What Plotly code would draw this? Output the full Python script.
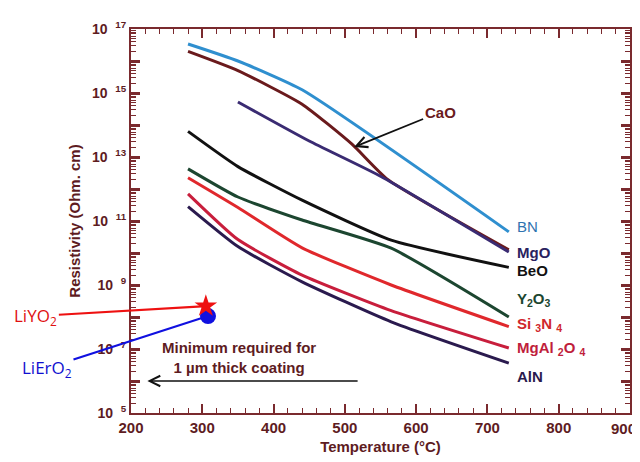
import plotly.graph_objects as go

# ---- data ----
bn_t = [280, 350, 440, 730]
bn_r = [16.53, 16.0, 15.1, 10.66]
cao_t = [280, 350, 440, 510, 560, 730]
cao_r = [16.3, 15.7, 14.65, 13.4, 12.3, 10.1]
mgo_t = [350, 450, 550, 730]
mgo_r = [14.72, 13.5, 12.4, 10.03]
beo_t = [280, 350, 440, 565, 730]
beo_r = [13.8, 12.7, 11.65, 10.4, 9.55]
y2o3_t = [280, 350, 440, 565, 730]
y2o3_r = [12.63, 11.75, 11.03, 10.15, 8.0]
si3n4_t = [280, 350, 440, 565, 730]
si3n4_r = [12.35, 11.42, 10.16, 9.0, 7.7]
mgal_t = [280, 350, 440, 565, 730]
mgal_r = [11.85, 10.42, 9.31, 8.2, 7.03]
aln_t = [280, 350, 440, 565, 730]
aln_r = [11.45, 10.2, 9.1, 7.85, 6.56]

liyo2 = (305, 8.34)
lierO2 = (308, 8.03)

cao_arrow_pt = (513, 13.31)
min_req = 6.0
min_arrow_t = (520, 223)

x_ticks = [200, 300, 400, 500, 600, 700, 800, 900]
y_decades = list(range(5, 18))

maroon = "#5e1c1f"
axis_col = "#7a2a2e"
FONT = "Liberation Sans, Arial"

series = [
    ("BN", bn_t, bn_r, "#2f8fcf"),
    ("CaO", cao_t, cao_r, "#6a1a1c"),
    ("MgO", mgo_t, mgo_r, "#3a2b72"),
    ("BeO", beo_t, beo_r, "#111111"),
    ("Y2O3", y2o3_t, y2o3_r, "#1c4630"),
    ("Si3N4", si3n4_t, si3n4_r, "#e0282c"),
    ("MgAl2O4", mgal_t, mgal_r, "#c81e3c"),
    ("AlN", aln_t, aln_r, "#2a1a4e"),
]

fig = go.Figure()
for name, t, r, c in series:
    fig.add_trace(go.Scatter(x=t, y=[10 ** v for v in r], mode="lines",
                             line=dict(color=c, width=3, shape="spline", smoothing=0.5),
                             name=name, showlegend=False))

fig.add_trace(go.Scatter(x=[lierO2[0]], y=[10 ** lierO2[1]], mode="markers",
                         marker=dict(symbol="circle", size=16, color="#1010e0"),
                         showlegend=False))
fig.add_trace(go.Scatter(x=[liyo2[0]], y=[10 ** liyo2[1]], mode="markers",
                         marker=dict(symbol="star", size=17, color="#ee1111"),
                         showlegend=False))

# right-side labels (annotation y on a log axis is given in log10 units)
labels = [
    ("BN", 10.84, "#2f73b0", False),
    ("MgO", 10.03, "#2a2260", True),
    ("BeO", 9.44, "#111111", True),
    ("Y<sub>2</sub>O<sub>3</sub>", 8.55, "#1c4630", True),
    ("Si <sub>3</sub>N <sub>4</sub>", 7.78, "#d0282c", True),
    ("MgAl <sub>2</sub>O <sub>4</sub>", 7.02, "#c01e3c", True),
    ("AlN", 6.13, "#2a1a4e", True),
]
for txt, yv, c, bold in labels:
    fig.add_annotation(x=738, y=yv, text=("<b>%s</b>" % txt) if bold else txt,
                       showarrow=False, xanchor="left", yanchor="middle",
                       font=dict(family=FONT, size=15, color=c))

# CaO annotation with arrow
fig.add_annotation(x=cao_arrow_pt[0], y=cao_arrow_pt[1], text="<b>CaO</b>",
                   showarrow=True, arrowhead=5, arrowsize=1.2, arrowwidth=1.8,
                   arrowcolor="#111111", ax=86, ay=-35,
                   font=dict(family=FONT, size=15, color="#6a1a1c"))

# Minimum required arrow
fig.add_annotation(x=min_arrow_t[1], y=min_req, ax=min_arrow_t[0], ay=min_req,
                   axref="x", ayref="y", text="", showarrow=True,
                   arrowhead=5, arrowsize=1.3, arrowwidth=1.6, arrowcolor="#111111")
fig.add_annotation(x=352, y=6.72,
                   text="<b>Minimum required for<br>1 µm thick coating</b>",
                   showarrow=False, xanchor="center", yanchor="middle",
                   font=dict(family=FONT, size=15, color=maroon))

# LiYO2 / LiErO2 labels
fig.add_annotation(x=liyo2[0], y=liyo2[1], text="LiYO<sub>2</sub>",
                   showarrow=True, arrowhead=0, arrowwidth=2.2, arrowcolor="#ee1111",
                   ax=-170, ay=10, standoff=4,
                   font=dict(family="Open Sans, Liberation Sans", size=17, color="#e01010"))
fig.add_annotation(x=lierO2[0], y=lierO2[1], text="LiErO<sub>2</sub>",
                   showarrow=True, arrowhead=0, arrowwidth=2.2, arrowcolor="#1010e0",
                   ax=-161, ay=52, standoff=4,
                   font=dict(family="Open Sans, Liberation Sans", size=17, color="#1010d0"))

# last x tick label, kept inside the page
fig.add_annotation(xref="paper", yref="paper", x=1, y=0, xanchor="right", yanchor="top",
                   xshift=8, yshift=-5, text="<b>%d</b>" % x_ticks[-1], showarrow=False,
                   font=dict(family=FONT, size=15, color=maroon))

ytext = []
for d in y_decades:
    ytext.append("<b>10&nbsp;&nbsp;<sup>%d</sup></b>" % d if d % 2 == 1 else "")

minor_y = [m * 10 ** d for d in range(5, 17) for m in range(2, 10)]

fig.update_layout(
    width=632, height=454,
    margin=dict(l=123, r=8, t=21, b=49),
    paper_bgcolor="white", plot_bgcolor="white",
    font=dict(family=FONT, color=maroon),
    xaxis=dict(range=[200, 900], tickvals=x_ticks, ticks="inside", ticklen=9,
               tickwidth=1.5, tickcolor=axis_col, showline=True, linecolor=axis_col,
               linewidth=2, mirror="ticks", showgrid=False, zeroline=False,
               tickfont=dict(size=15, color=maroon, family=FONT),
               ticktext=["<b>%d</b>" % v for v in x_ticks[:-1]] + [""],
               minor=dict(dtick=20, ticks="inside", ticklen=5, tickcolor=axis_col,
                          tickwidth=1.2, showgrid=False),
               title=dict(text="<b>Temperature (°C)</b>", standoff=6,
                          font=dict(size=15, color=maroon))),
    yaxis=dict(type="log", range=[5, 17], tickvals=[10 ** d for d in y_decades],
               ticktext=ytext,
               ticks="inside", ticklen=9, tickwidth=2.5, tickcolor=axis_col,
               showline=True, linecolor=axis_col, linewidth=2, mirror="ticks",
               showgrid=False, zeroline=False,
               tickfont=dict(size=14, color=maroon, family=FONT),
               minor=dict(tickvals=minor_y, ticks="inside", ticklen=5,
                          tickcolor=axis_col, tickwidth=1.2, showgrid=False),
               title=dict(text="<b>Resistivity (Ohm. cm)</b>", standoff=8,
                          font=dict(size=15, color=maroon))),
)

fig.write_html("out.html")
